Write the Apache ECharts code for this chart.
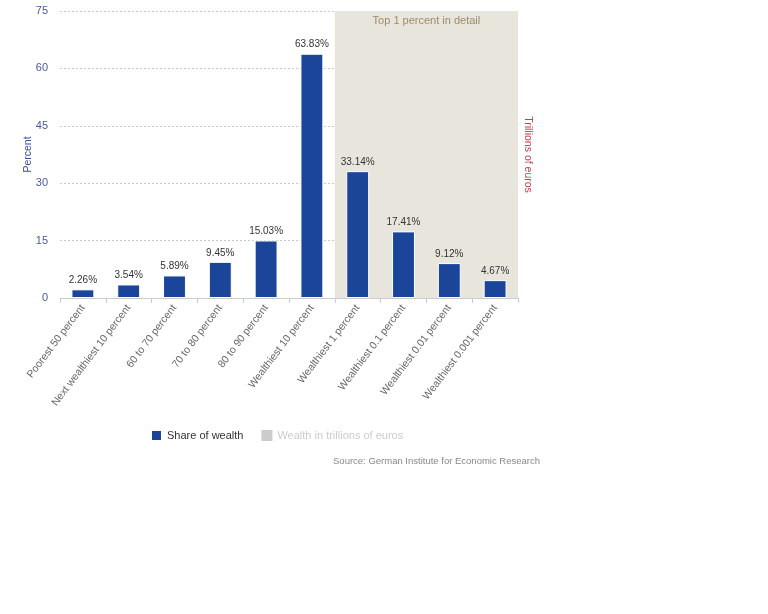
<!DOCTYPE html>
<html>
<head>
	<meta charset="utf-8">
	<title>Share of wealth</title>
	<script type="text/javascript" src="https://cdn.jsdelivr.net/npm/echarts@6/dist/echarts.min.js"></script>
	<style>html,body{margin:0;padding:0;background:#fff;}</style>
</head>
<body>
	<div id="mychar" style="width: 768px;height:614px;"></div>

	<script type="text/javascript">
		// categories and values
		var groups = ['Poorest 50 percent', 'Next wealthiest 10 percent', '60 to 70 percent',
			'70 to 80 percent', '80 to 90 percent', 'Wealthiest 10 percent', 'Wealthiest 1 percent',
			'Wealthiest 0.1 percent', 'Wealthiest 0.01 percent', 'Wealthiest 0.001 percent'];
		var shareOfWealth = [2.26, 3.54, 5.89, 9.45, 15.03, 63.83, 33.14, 17.41, 9.12, 4.67];
		var wealthTrillions = []; // series is switched off in the legend
		var percentTicks = [0, 15, 30, 45, 60, 75];
		var detailRange = [6, 10]; // category slots covered by the "top 1 percent" band

		var mychar = echarts.init(document.getElementById("mychar"));
		var font = 'Liberation Sans, Arial, sans-serif';
		var option = {
			textStyle: { fontFamily: font },
			title: {
				text: 'Source: German Institute for Economic Research',
				right: 223,
				top: 451,
				textStyle: { fontSize: 9.5, fontWeight: 'normal', color: '#888', fontFamily: font }
			},
			legend: {
				left: 145,
				top: 424,
				itemWidth: 11,
				itemHeight: 11,
				itemGap: 18,
				icon: 'rect',
				inactiveColor: '#ccc',
				textStyle: { fontSize: 11, color: '#333', fontFamily: font },
				data: ['Share of wealth', 'Wealth in trillions of euros'],
				selected: { 'Wealth in trillions of euros': false }
			},
			grid: { left: 60, right: 250, top: 11, bottom: 316 },
			xAxis: [
				{
					type: 'category',
					data: groups,
					axisLine: { lineStyle: { color: '#ccc' } },
					axisTick: { show: true, length: 5, lineStyle: { color: '#ccc' } },
					axisLabel: { rotate: 53, fontSize: 10.5, color: '#666', margin: 8, interval: 0, fontFamily: font }
				},
				{
					type: 'value',
					min: 0,
					max: groups.length,
					show: false
				}
			],
			yAxis: [
				{
					type: 'value',
					min: percentTicks[0],
					max: percentTicks[percentTicks.length - 1],
					interval: 15,
					name: 'Percent',
					nameLocation: 'middle',
					nameGap: 26,
					nameMoveOverlap: false,
					nameTextStyle: { color: '#3b4f9a', fontSize: 10.5, fontFamily: font },
					axisLine: { show: false },
					axisTick: { show: false },
					axisLabel: { color: '#4a5a96', fontSize: 11, margin: 12, fontFamily: font },
					splitLine: { lineStyle: { color: '#c8c8c8', type: [2, 2] } }
				},
				{
					type: 'value',
					position: 'right',
					name: 'Trillions of euros',
					nameLocation: 'middle',
					nameRotate: -90,
					nameGap: 4,
					nameTextStyle: { color: '#c0404f', fontSize: 10.5, fontFamily: font },
					axisLine: { show: false },
					axisTick: { show: false },
					axisLabel: { show: false },
					splitLine: { show: false }
				}
			],
			series: [
				{
					name: 'detail band',
					type: 'scatter',
					xAxisIndex: 1,
					yAxisIndex: 0,
					data: [],
					silent: true,
					z: 0,
					markArea: {
						silent: true,
						itemStyle: { color: '#e8e5dc' },
						label: {
							show: true,
							position: 'insideTop',
							distance: 4,
							color: '#a08a6a',
							fontSize: 11,
							fontFamily: font
						},
						data: [[
							{ name: 'Top 1 percent in detail', xAxis: detailRange[0], yAxis: percentTicks[percentTicks.length - 1] },
							{ xAxis: detailRange[1], yAxis: percentTicks[0] }
						]]
					}
				},
				{
					name: 'Share of wealth',
					type: 'bar',
					data: shareOfWealth,
					barWidth: '50%',
					z: 3,
					itemStyle: { color: '#1a4599', borderColor: '#fff', borderWidth: 1 },
					label: {
						show: true,
						position: 'top',
						distance: 4,
						formatter: '{c}%',
						fontSize: 10,
						color: '#333',
						fontFamily: font
					}
				},
				{
					name: 'Wealth in trillions of euros',
					type: 'bar',
					yAxisIndex: 1,
					itemStyle: { color: '#999' },
					data: wealthTrillions
				}
			]
		};

		mychar.setOption(option);
	</script>
</body>
</html>
